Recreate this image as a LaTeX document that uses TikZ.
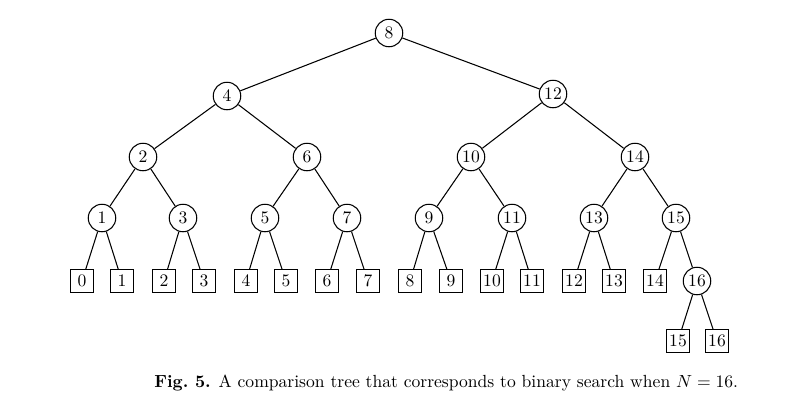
\documentclass[tikz,border=0pt]{standalone}
\usepackage{amsmath}
\usepackage{tikz}
\usetikzlibrary{positioning}

\begin{document}
\begin{tikzpicture}[x=0.02cm,y=-0.02cm,line width=0.6pt,
  inner/.style={draw,circle,minimum size=0.55cm,inner sep=0pt},
  leaf/.style={draw,minimum size=0.45cm,inner sep=1pt},
  edge/.style={}]
\useasboundingbox (0,0) rectangle (792,410);
% internal nodes
\node[inner] (n8) at (389,33) {8};
\node[inner] (n4) at (227,96) {4};
\node[inner] (n12) at (553,94) {12};
\node[inner] (n2) at (143,157) {2};
\node[inner] (n6) at (307,157) {6};
\node[inner] (n10) at (471,157) {10};
\node[inner] (n14) at (635,157) {14};
\node[inner] (n1) at (102,218) {1};
\node[inner] (n3) at (183,218) {3};
\node[inner] (n5) at (265,218) {5};
\node[inner] (n7) at (347,218) {7};
\node[inner] (n9) at (429,218) {9};
\node[inner] (n11) at (512,218) {11};
\node[inner] (n13) at (594,218) {13};
\node[inner] (n15) at (676,218) {15};
\node[inner] (n16) at (697,281) {16};
% external nodes
\node[leaf] (l0) at (82,281) {0};
\node[leaf] (l1) at (122,281) {1};
\node[leaf] (l2) at (164,281) {2};
\node[leaf] (l3) at (204,281) {3};
\node[leaf] (l4) at (246,281) {4};
\node[leaf] (l5) at (286,281) {5};
\node[leaf] (l6) at (327,281) {6};
\node[leaf] (l7) at (368,281) {7};
\node[leaf] (l8) at (410,281) {8};
\node[leaf] (l9) at (451,281) {9};
\node[leaf] (l10) at (492,281) {10};
\node[leaf] (l11) at (532,281) {11};
\node[leaf] (l12) at (574,281) {12};
\node[leaf] (l13) at (614,281) {13};
\node[leaf] (l14) at (655,281) {14};
\node[leaf] (l15) at (678,341) {15};
\node[leaf] (l16) at (717,341) {16};
% edges
\draw[edge] (n8) -- (n4); \draw[edge] (n8) -- (n12);
\draw[edge] (n4) -- (n2); \draw[edge] (n4) -- (n6);
\draw[edge] (n12) -- (n10); \draw[edge] (n12) -- (n14);
\draw[edge] (n2) -- (n1); \draw[edge] (n2) -- (n3);
\draw[edge] (n6) -- (n5); \draw[edge] (n6) -- (n7);
\draw[edge] (n10) -- (n9); \draw[edge] (n10) -- (n11);
\draw[edge] (n14) -- (n13); \draw[edge] (n14) -- (n15);
\draw[edge] (n1) -- (l0); \draw[edge] (n1) -- (l1);
\draw[edge] (n3) -- (l2); \draw[edge] (n3) -- (l3);
\draw[edge] (n5) -- (l4); \draw[edge] (n5) -- (l5);
\draw[edge] (n7) -- (l6); \draw[edge] (n7) -- (l7);
\draw[edge] (n9) -- (l8); \draw[edge] (n9) -- (l9);
\draw[edge] (n11) -- (l10); \draw[edge] (n11) -- (l11);
\draw[edge] (n13) -- (l12); \draw[edge] (n13) -- (l13);
\draw[edge] (n15) -- (l14); \draw[edge] (n15) -- (n16);
\draw[edge] (n16) -- (l15); \draw[edge] (n16) -- (l16);
% caption
\node[anchor=west] (cap) at (148,383) {\textbf{Fig.\ 5.} A comparison tree that corresponds to binary search when $N=16$.};
\end{tikzpicture}
\end{document}
